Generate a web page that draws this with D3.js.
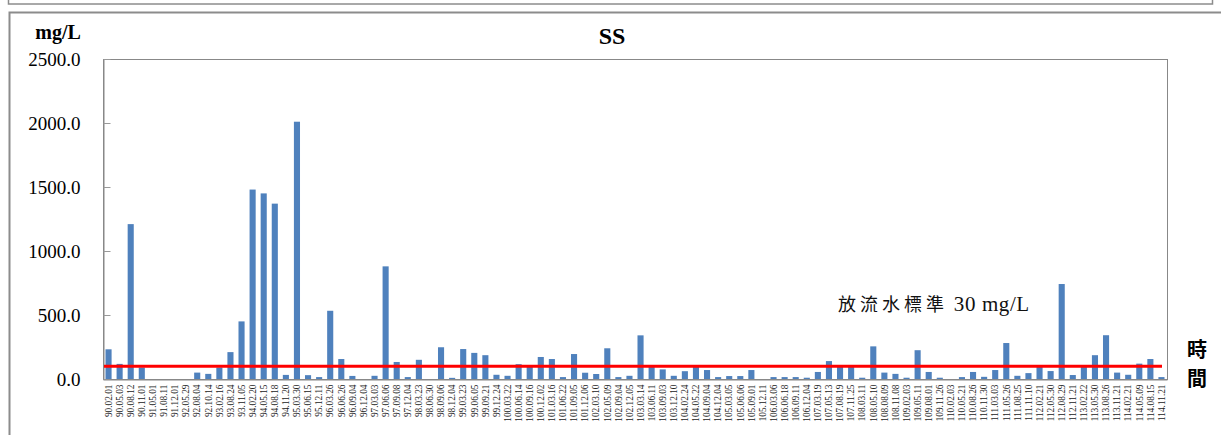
<!DOCTYPE html>
<html><head><meta charset="utf-8">
<script src="https://cdn.jsdelivr.net/npm/d3@7"></script>
<style>body{margin:0;background:#fff;}svg{display:block;}</style>
</head><body>
<svg id="c" width="1221" height="435"></svg>
<script>
const dates = ["90.02.01","90.05.03","90.08.12","90.11.01","91.05.01","91.08.11","91.12.01","92.05.29","92.08.04","92.10.14",
"93.02.16","93.08.24","93.11.05","94.02.20","94.05.15","94.08.18","94.11.20","95.03.30","95.06.15","95.12.11",
"96.03.26","96.06.26","96.09.04","96.12.04","97.03.03","97.06.06","97.09.08","97.12.04","98.03.23","98.06.30",
"98.09.06","98.12.04","99.03.23","99.06.05","99.09.21","99.12.24","100.03.22","100.06.14","100.09.16","100.12.02",
"101.03.16","101.06.22","101.09.05","101.12.06","102.03.10","102.05.09","102.09.04","102.12.05","103.03.14","103.06.11",
"103.09.03","103.12.10","104.02.24","104.05.22","104.09.04","104.12.04","105.03.05","105.06.06","105.09.01","105.12.11",
"106.03.06","106.06.18","106.09.11","106.12.04","107.03.19","107.05.13","107.08.19","107.11.25","108.03.11","108.05.10",
"108.08.09","108.11.08","109.02.03","109.05.11","109.08.01","109.11.26","110.02.03","110.05.21","110.08.26","110.11.30",
"111.03.03","111.05.26","111.08.25","111.11.10","112.02.21","112.05.30","112.08.29","112.11.21","113.02.22","113.05.30",
"113.08.26","113.11.21","114.02.21","114.05.09","114.08.15","114.11.21"];
const ssValues = [232,118,1210,90,0,0,0,0,50,40,
90,210,450,1480,1450,1370,32,2010,30,15,
533,156,24,0,25,880,133,15,150,0,
248,9,234,204,186,33,25,116,98,172,
156,15,195,49,39,240,15,25,341,100,
75,25,61,95,70,15,23,23,70,0,
15,15,15,10,55,140,95,95,10,255,
50,40,10,225,55,10,0,15,55,17,
70,281,25,46,95,62,742,31,95,186,
342,50,33,120,156,15];
const standardValue = [100];
const yTicks = [0,500,1000,1500,2000,2500];
const titleText = "SS";
const unitText = "mg/L";
const noteCJK = "放流水標準";
const noteLatin = " 30 mg/L";
const xAxisTitle = ["時","間"];

const SERIF = '"Liberation Serif","Times New Roman","DejaVu Serif",serif';
const svg = d3.select("#c");
const L = 103, R = 1167, T = 59, B = 379;

// outer frames
svg.append("rect").attr("x",8.5).attr("y",-5).attr("width",1204).attr("height",9)
  .attr("fill","none").attr("stroke","#8c8c8c").attr("stroke-width",1.5);
svg.append("rect").attr("x",9.5).attr("y",12.5).attr("width",1230).attr("height",440)
  .attr("fill","none").attr("stroke","#8c8c8c").attr("stroke-width",2);

const x = d3.scaleBand().domain(dates).range([L,R]).paddingInner(0.45).paddingOuter(0.225);
const y = d3.scaleLinear().domain([0,2500]).range([B,T]);

// plot border
svg.append("rect").attr("x",L+0.5).attr("y",T+0.5).attr("width",R-L).attr("height",B-T)
  .attr("fill","none").attr("stroke","#888").attr("stroke-width",1);

// y axis
const yAxis = d3.axisRight(y).tickValues(yTicks).tickSize(7).tickFormat(d3.format(".1f"));
const gy = svg.append("g").attr("transform",`translate(${L+0.5},0)`).call(yAxis)
  .attr("font-family",SERIF).attr("font-size",19);
gy.select(".domain").attr("stroke","#888");
gy.selectAll(".tick line").attr("stroke","#999");
gy.selectAll(".tick text").attr("x",-23).attr("text-anchor","end").attr("fill","#000")
  .style("font-family",SERIF).style("font-size","19px");

// bars
svg.append("g").selectAll("rect").data(dates).join("rect")
  .attr("x",d=>x(d)).attr("width",x.bandwidth())
  .attr("y",(d,i)=>y(ssValues[i])).attr("height",(d,i)=>B-y(ssValues[i]))
  .attr("fill","#4f81bd");

// x axis
const xAxis = d3.axisBottom(x).tickSize(0).tickPadding(0);
const gx = svg.append("g").attr("transform",`translate(0,${B+0.5})`).call(xAxis)
  .attr("font-family",SERIF).attr("font-size",9);
gx.select(".domain").attr("stroke","#888");
gx.selectAll(".tick text")
  .attr("transform","rotate(-90)").attr("x",-5).attr("y",0).attr("dy","0.35em")
  .attr("text-anchor","end").attr("fill","#222")
  .style("font-family",SERIF).style("font-size","9.3px");

// standard line
svg.append("line").attr("x1",L+1).attr("x2",1162)
  .attr("y1",y(standardValue[0])).attr("y2",y(standardValue[0]))
  .attr("stroke","#ff0000").attr("stroke-width",3);

// texts
svg.append("text").attr("x",612).attr("y",44).attr("text-anchor","middle")
  .style("font-family",SERIF).style("font-size","24px").style("font-weight","bold")
  .text(titleText);
svg.append("text").attr("x",58).attr("y",39).attr("text-anchor","middle")
  .style("font-family",SERIF).style("font-size","20px").style("font-weight","bold")
  .text(unitText);
const note = svg.append("text").attr("x",838).attr("y",311).attr("fill","#111");
note.append("tspan").style("font-family",'"Noto Sans CJK TC",sans-serif').style("font-size","18px")
  .style("letter-spacing","4px").text(noteCJK);
note.append("tspan").style("font-family",SERIF).style("font-size","21px").style("letter-spacing","0.6px").text(noteLatin);
xAxisTitle.forEach((t,i)=>{
  svg.append("text").attr("x",1197).attr("y",357+i*29).attr("text-anchor","middle")
    .style("font-family",'"Noto Sans CJK TC",sans-serif').style("font-size","20px").style("font-weight","bold")
    .text(t);
});
</script>
</body></html>
